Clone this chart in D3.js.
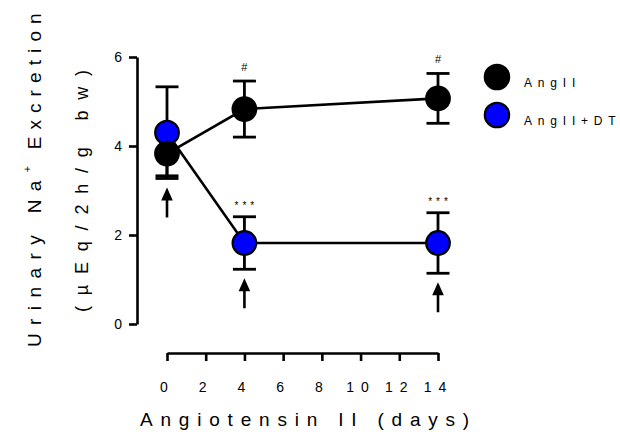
<!DOCTYPE html>
<html><head><meta charset="utf-8">
<script src="https://cdn.jsdelivr.net/npm/d3@7"></script>
<style>
html,body{margin:0;padding:0;background:#fff;}
svg text{font-family:"Liberation Sans",Arial,sans-serif;fill:#000;}
</style></head>
<body>
<svg id="chart" width="620" height="440"></svg>
<script>
const days = [0, 4, 14];
const angII = [3.83, 4.83, 5.07];
const angIIErr = [0.5, 0.63, 0.56];
const angIIDT = [4.3, 1.82, 1.82];
const angIIDTErr = [1.03, 0.59, 0.68];
const seriesNames = ["AngII", "AngII+DT"];
const seriesColors = ["#000000", "#0000ff"];
const xTicks = [0, 2, 4, 6, 8, 10, 12, 14];
const yTicks = [0, 2, 4, 6];
const hashDays = [4, 14];
const starDays = [4, 14];
const arrowDays = [0, 4, 14];

const svg = d3.select("#chart");
const x = d3.scaleLinear().domain([0, 14]).range([167, 438]);
const y = d3.scaleLinear().domain([0, 6]).range([324, 57]);

// axes
const xAxis = svg.append("g").attr("transform", "translate(0,353)")
  .call(d3.axisBottom(x).tickValues(xTicks).tickFormat(d3.format("d")).tickSize(8).tickSizeOuter(0).tickPadding(21));
const yAxis = svg.append("g").attr("transform", "translate(137,0)")
  .call(d3.axisLeft(y).tickValues(yTicks).tickFormat(d3.format("d")).tickSize(8).tickSizeOuter(0).tickPadding(0));
[xAxis, yAxis].forEach(g => {
  g.select(".domain").attr("stroke", "#000").attr("stroke-width", 2.6);
  g.selectAll(".tick line").attr("stroke", "#000").attr("stroke-width", 2.6);
  g.selectAll(".tick text").attr("font-size", 14).attr("fill", "#000")
    .style("letter-spacing", "7px");
});
xAxis.selectAll(".tick text").attr("dy", "0.71em");
yAxis.selectAll(".tick text").attr("x", -8).attr("dy", "0.35em");

// axis titles
svg.append("text").attr("x", 140).attr("y", 426).attr("font-size", 19)
  .style("letter-spacing", "7.8px").text("Angiotensin II (days)");
const yt = svg.append("text").attr("transform", "translate(41,347) rotate(-90)")
  .attr("font-size", 19);
yt.append("tspan").style("letter-spacing", "8.4px").text("Urinary Na");
yt.append("tspan").attr("font-size", 11).attr("dy", -10).style("letter-spacing", "4px").text("+");
yt.append("tspan").attr("dy", 10).style("letter-spacing", "7.1px").text(" Excretion");
svg.append("text").attr("transform", "translate(88,312) rotate(-90)")
  .attr("font-size", 18).style("letter-spacing", "10.8px").text("(\u00b5Eq/2h/g bw)");

const series = [
  {name: seriesNames[0], vals: angII, err: angIIErr, color: seriesColors[0]},
  {name: seriesNames[1], vals: angIIDT, err: angIIDTErr, color: seriesColors[1]}
];
const drawOrder = [series[1], series[0]];
const line = d3.line().x((d, i) => x(days[i])).y(d => y(d));

drawOrder.forEach(s => {
  svg.append("path").datum(s.vals).attr("d", line).attr("fill", "none")
    .attr("stroke", "#000").attr("stroke-width", 2.6);
});
drawOrder.forEach(s => {
  const g = svg.append("g").attr("stroke", "#000").attr("stroke-width", 2.8);
  s.vals.forEach((v, i) => {
    const cx = x(days[i]), lo = y(v - s.err[i]), hi = y(v + s.err[i]);
    g.append("line").attr("x1", cx).attr("x2", cx).attr("y1", lo).attr("y2", hi);
    g.append("line").attr("x1", cx - 11.5).attr("x2", cx + 11.5).attr("y1", lo).attr("y2", lo);
    g.append("line").attr("x1", cx - 11.5).attr("x2", cx + 11.5).attr("y1", hi).attr("y2", hi);
  });
});
drawOrder.forEach(s => {
  svg.append("g").selectAll("circle").data(s.vals).join("circle")
    .attr("cx", (d, i) => x(days[i])).attr("cy", d => y(d)).attr("r", 11.8)
    .attr("fill", s.color).attr("stroke", "#000").attr("stroke-width", 2.2);
});

// significance marks
hashDays.forEach(dd => {
  const i = days.indexOf(dd);
  svg.append("text").attr("x", x(dd)).attr("y", y(angII[i] + angIIErr[i]) - 10)
    .attr("text-anchor", "middle").attr("font-size", 11).text("#");
});
starDays.forEach(dd => {
  const i = days.indexOf(dd);
  svg.append("text").attr("x", x(dd) + 2).attr("y", y(angIIDT[i] + angIIDTErr[i]) - 8)
    .attr("text-anchor", "middle").attr("font-size", 10).style("letter-spacing", "4px").text("***");
});

// arrows
arrowDays.forEach(dd => {
  const i = days.indexOf(dd);
  const lowest = Math.min(angII[i] - angIIErr[i], angIIDT[i] - angIIDTErr[i]);
  const top = y(lowest) + 9, bot = top + 30, cx = x(dd);
  svg.append("line").attr("x1", cx).attr("x2", cx).attr("y1", top + 10).attr("y2", bot)
    .attr("stroke", "#000").attr("stroke-width", 2.6);
  svg.append("path").attr("d", `M${cx},${top}L${cx - 5.8},${top + 13}L${cx + 5.8},${top + 13}Z`)
    .attr("fill", "#000");
});

// legend
series.forEach((s, k) => {
  const cy = 77 + k * 38;
  svg.append("circle").attr("cx", 497).attr("cy", cy).attr("r", 12.2)
    .attr("fill", s.color).attr("stroke", "#000").attr("stroke-width", 2.2);
  svg.append("text").attr("x", 524).attr("y", cy + 10).attr("font-size", 12)
    .style("letter-spacing", "5.8px").text(s.name);
});
</script>
</body></html>
